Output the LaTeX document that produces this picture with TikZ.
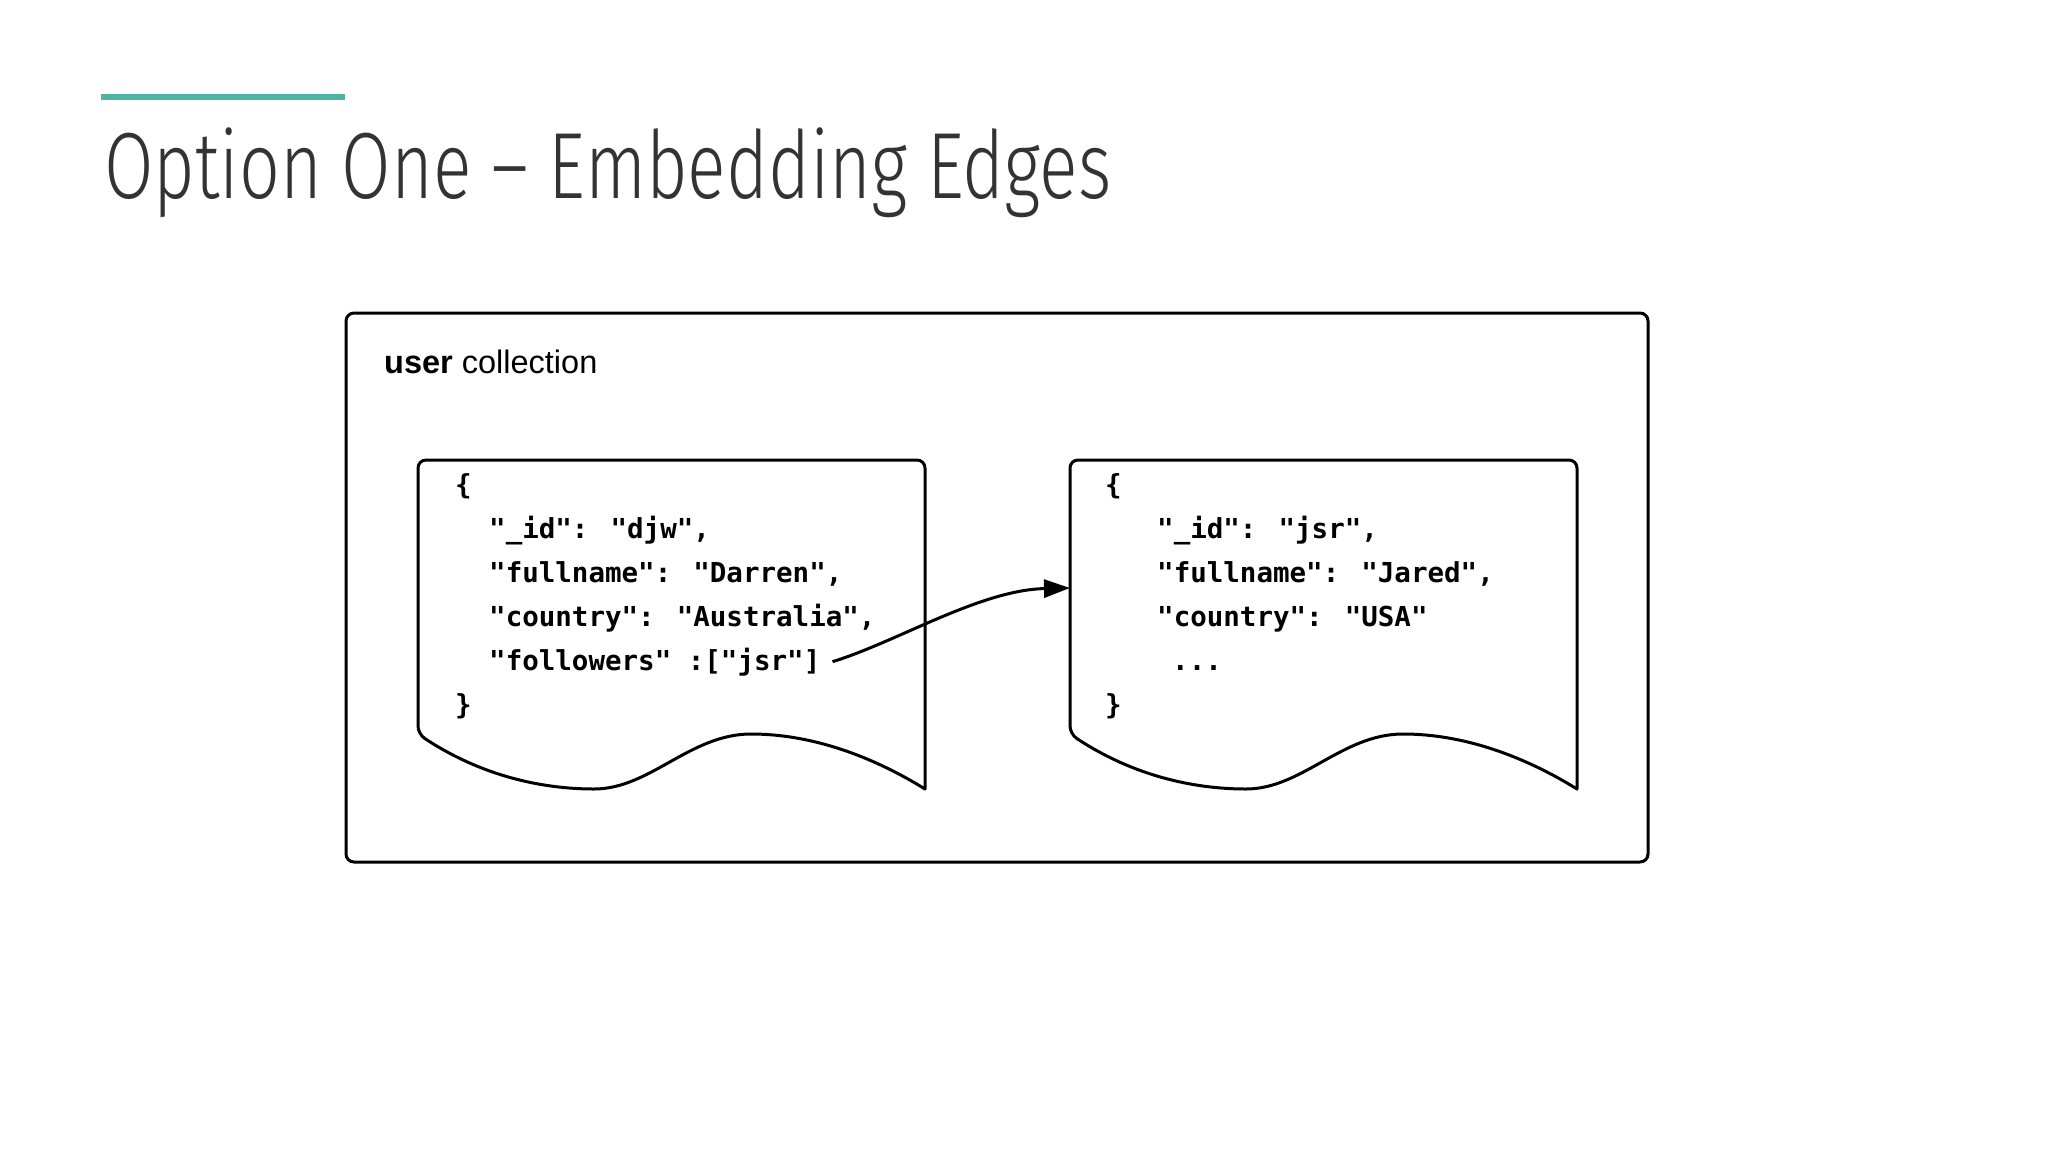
\documentclass[tikz,border=0pt]{standalone}
\usepackage{fontspec}
\usepackage{graphicx}
\setmainfont{Liberation Sans}
\newfontfamily\titlefont{Fira Sans Light}
\newfontfamily\codefont{DejaVu Sans Mono}
\usetikzlibrary{arrows.meta}
\definecolor{tealbar}{RGB}{79,180,166}
\definecolor{titlegray}{RGB}{51,51,51}
\tikzset{
  frameline/.style={draw=black, line width=3pt, rounded corners=8pt},
  docline/.style={draw=black, line width=3pt, line join=round},
  codetxt/.style={anchor=base west, inner sep=0pt, text=black,
    font=\codefont\bfseries\fontsize{27.5}{32}\selectfont},
  linkarrow/.style={draw=black, line width=3pt, -{Triangle[length=26pt,width=18pt]}},
}
\begin{document}
\begin{tikzpicture}[x=1pt,y=-1pt]
\useasboundingbox[fill=white] (0,0) rectangle (2048,1152);
% teal accent bar
\fill[tealbar] (101,94) rectangle (345,100);
% title
\node[anchor=base west, inner sep=0pt, text=titlegray] (title) at (104,198.5)
  {\resizebox{1007pt}{\height}{\fontsize{94}{100}\titlefont Option One – Embedding Edges}};
% collection frame
\node[frameline, minimum width=1302pt, minimum height=549pt, inner sep=0pt] (coll) at (997,587.5) {};
\node[anchor=base west, inner sep=0pt] (colllabel) at (384,373.5)
  {\fontsize{32.5}{36}\selectfont\textbf{user} collection};
% left document
\draw[docline] (925,789) [rounded corners=8pt] -- (925,460) -- (418,460) -- (418,734) [sharp corners]
  .. controls (480,775) and (540,789) .. (594,789)
  .. controls (650,789) and (690,734) .. (751,734)
  .. controls (810,734) and (870,755) .. (925,789) -- cycle;
% right document
\begin{scope}[shift={(652,0)}]
\draw[docline] (925,789) [rounded corners=8pt] -- (925,460) -- (418,460) -- (418,734) [sharp corners]
  .. controls (480,775) and (540,789) .. (594,789)
  .. controls (650,789) and (690,734) .. (751,734)
  .. controls (810,734) and (870,755) .. (925,789) -- cycle;
\end{scope}
\coordinate (rin) at (1070,588);
% left document text
\node[codetxt] (lb) at (455,494) {\{};
\node[codetxt] (l1) at (489,538) {"\_id": "djw",};
\node[codetxt] (l2) at (489,582) {"fullname": "Darren",};
\node[codetxt] (l3) at (489,626) {"country": "Australia",};
\node[codetxt] (l4) at (489,670) {"followers" :["jsr"]};
\node[codetxt] (le) at (455,714) {\}};
% right document text
\node[codetxt] (rb) at (1105,494) {\{};
\node[codetxt] (r1) at (1157,538) {"\_id": "jsr",};
\node[codetxt] (r2) at (1157,582) {"fullname": "Jared",};
\node[codetxt] (r3) at (1157,626) {"country": "USA"};
\node[codetxt] (r4) at (1172,670) {...};
\node[codetxt] (re) at (1105,714) {\}};
% reference arrow
\draw[linkarrow] ([xshift=12pt]l4.east) .. controls +(65,-20) and +(-90,2) .. (rin);
\end{tikzpicture}
\end{document}
